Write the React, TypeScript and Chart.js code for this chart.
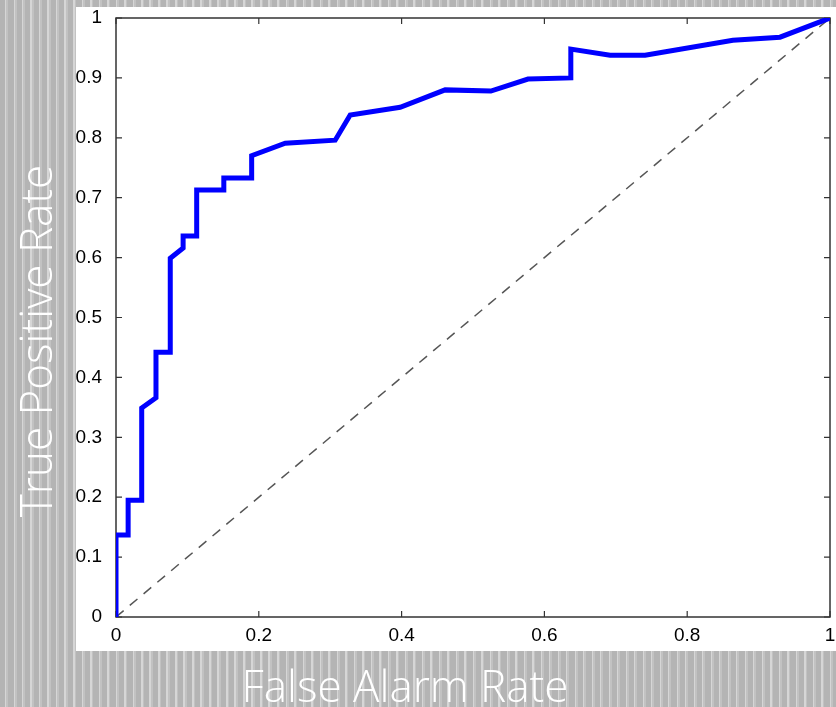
import React, { useEffect, useRef } from "react";
import { Chart, registerables } from "chart.js";

Chart.register(...registerables);

// ROC curve (false alarm rate vs true positive rate)
const falseAlarmRate = [0, 0, 0.017, 0.017, 0.036, 0.036, 0.056, 0.056, 0.076, 0.076, 0.094, 0.094, 0.113, 0.113, 0.151, 0.151, 0.19, 0.19, 0.237, 0.307, 0.328, 0.398, 0.461, 0.525, 0.577, 0.637, 0.637, 0.692, 0.741, 0.864, 0.93, 1];
const truePositiveRate = [0, 0.137, 0.137, 0.195, 0.195, 0.349, 0.366, 0.442, 0.442, 0.599, 0.616, 0.636, 0.636, 0.713, 0.713, 0.733, 0.733, 0.77, 0.791, 0.796, 0.838, 0.851, 0.88, 0.878, 0.898, 0.9, 0.948, 0.938, 0.938, 0.963, 0.968, 1];
// chance diagonal
const chanceX = [0, 1];
const chanceY = [0, 1];

const xTitle = "False Alarm Rate";
const yTitle = "True Positive Rate";

const W = 836;
const H = 707;

export default function App() {
  const ref = useRef<HTMLCanvasElement | null>(null);

  useEffect(() => {
    const canvas = ref.current;
    if (!canvas) return;

    const framePlugin = {
      id: "frame",
      beforeDatasetsDraw(chart: any) {
        const { ctx, chartArea, scales } = chart;
        const { left, right, top, bottom } = chartArea;
        ctx.save();
        ctx.strokeStyle = "#333333";
        ctx.lineWidth = 1.5;
        ctx.strokeRect(left, top, right - left, bottom - top);
        ctx.lineWidth = 1.2;
        const tl = 6;
        scales.x.ticks.forEach((t: any) => {
          const px = scales.x.getPixelForValue(t.value);
          ctx.beginPath();
          ctx.moveTo(px, bottom);
          ctx.lineTo(px, bottom - tl);
          ctx.moveTo(px, top);
          ctx.lineTo(px, top + tl);
          ctx.stroke();
        });
        scales.y.ticks.forEach((t: any) => {
          const py = scales.y.getPixelForValue(t.value);
          ctx.beginPath();
          ctx.moveTo(left, py);
          ctx.lineTo(left + tl, py);
          ctx.moveTo(right, py);
          ctx.lineTo(right - tl, py);
          ctx.stroke();
        });
        ctx.restore();
      },
      afterDraw(chart: any) {
        const { ctx } = chart;
        ctx.save();
        ctx.fillStyle = "#ffffff";
        ctx.font = "300 44px 'Open Sans', Lato, sans-serif";
        ctx.textAlign = "center";
        ctx.textBaseline = "alphabetic";
        ctx.fillText(xTitle, 405, 702);
        ctx.translate(52, 341);
        ctx.rotate(-Math.PI / 2);
        ctx.fillText(yTitle, 0, 0);
        ctx.restore();
      },
    };

    const fmt = (v: any) => {
      const n = Number(v);
      if (Math.abs(n) < 1e-9) return "0";
      if (Math.abs(n - 1) < 1e-9) return "1";
      return n.toFixed(1);
    };

    const tickFont = { family: "'Liberation Sans', Arial, sans-serif", size: 19 };

    const chart = new Chart(canvas, {
      type: "line",
      data: {
        datasets: [
          {
            label: "ROC",
            data: falseAlarmRate.map((x, i) => ({ x, y: truePositiveRate[i] })),
            borderColor: "#0000ff",
            borderWidth: 5,
            pointRadius: 0,
            tension: 0,
            fill: false,
            borderJoinStyle: "miter",
          },
          {
            label: "Chance",
            data: chanceX.map((x, i) => ({ x, y: chanceY[i] })),
            borderColor: "#555555",
            borderWidth: 1.5,
            borderDash: [10, 8],
            pointRadius: 0,
            fill: false,
          },
        ],
      },
      options: {
        responsive: false,
        animation: false,
        layout: { padding: { left: 0, top: 18, right: 6, bottom: 0 } },
        plugins: {
          legend: { display: false },
          tooltip: { enabled: false },
          title: { display: false },
        },
        scales: {
          x: {
            type: "linear",
            min: 0,
            max: 1,
            grid: { display: false, drawTicks: false },
            border: { display: false },
            ticks: {
              stepSize: 0.2,
              padding: 7,
              color: "#000000",
              font: tickFont,
              callback: fmt,
              maxRotation: 0,
            },
            afterFit(scale: any) {
              scale.height = 90;
              scale.paddingLeft = 0;
              scale.paddingRight = 0;
            },
          },
          y: {
            type: "linear",
            min: 0,
            max: 1,
            grid: { display: false, drawTicks: false },
            border: { display: false },
            ticks: {
              stepSize: 0.1,
              padding: 14,
              color: "#000000",
              font: tickFont,
              callback: fmt,
            },
            afterFit(scale: any) {
              scale.width = 116;
              scale.paddingTop = 0;
              scale.paddingBottom = 0;
            },
          },
        },
      },
      plugins: [framePlugin],
    } as any);

    return () => chart.destroy();
  }, []);

  return (
    <div
      style={{
        position: "fixed",
        left: 0,
        top: 0,
        width: W,
        height: H,
        background:
          "repeating-linear-gradient(to right, #b4b4b4 0px, #b4b4b4 5px, #d6d6d6 5px, #d6d6d6 6.5px, #c2c2c2 6.5px, #c2c2c2 8.5px)",
        overflow: "hidden",
      }}
    >
      <div
        style={{
          position: "absolute",
          left: 76,
          top: 7,
          width: 760,
          height: 644,
          background: "#ffffff",
        }}
      />
      <canvas
        ref={ref}
        width={W}
        height={H}
        style={{ position: "absolute", left: 0, top: 0, width: W, height: H }}
      />
    </div>
  );
}
